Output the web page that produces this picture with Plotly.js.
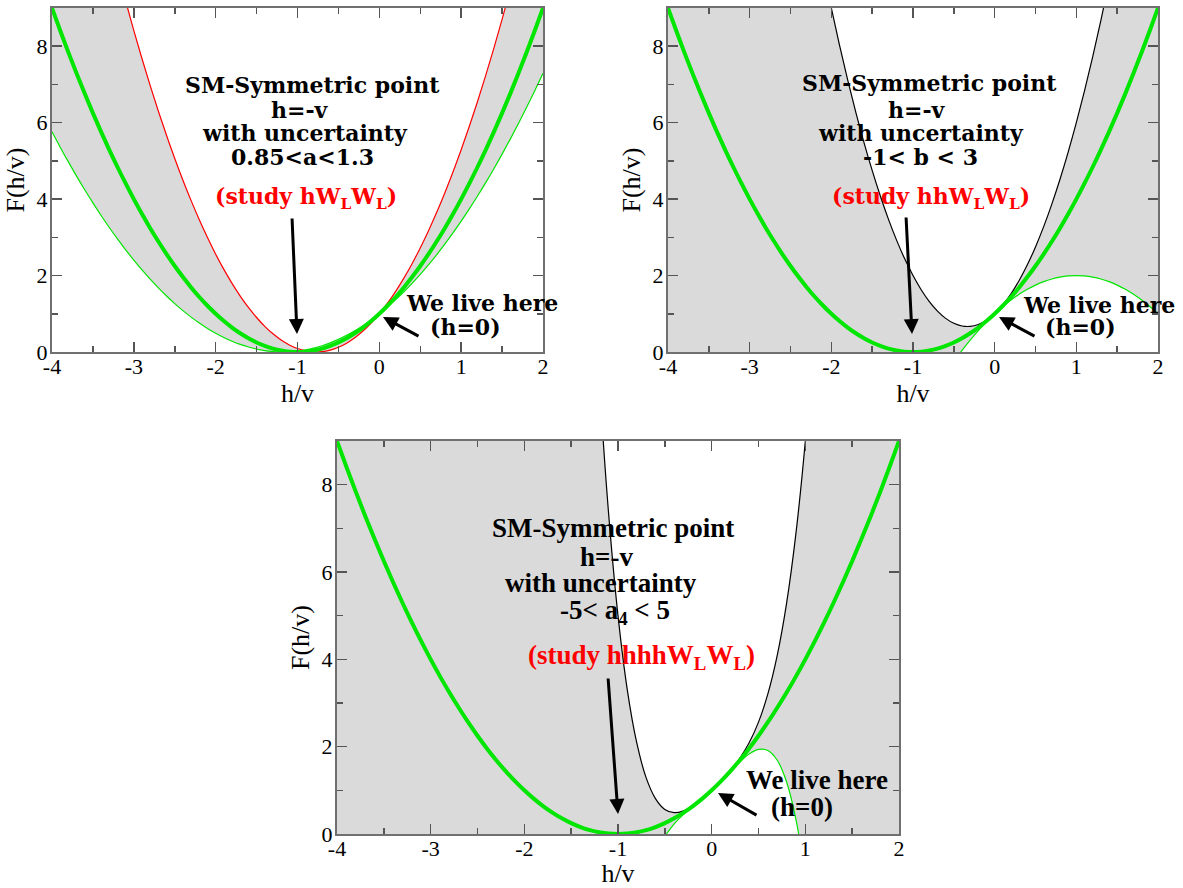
<!DOCTYPE html>
<html>
<head>
<meta charset="utf-8">
<script src="https://cdn.plot.ly/plotly-3.0.1.min.js"></script>
<style>html,body{margin:0;padding:0;background:#fff;}#plot{width:1183px;height:888px;}</style>
</head>
<body>
<div id="plot"></div>
<script>
// ---- data ----
const hv = [-4.0,-3.9,-3.8,-3.7,-3.6,-3.5,-3.4,-3.3,-3.2,-3.1,-3.0,-2.9,-2.8,-2.7,-2.6,-2.5,-2.4,-2.3,-2.2,-2.1,-2.0,-1.9,-1.8,-1.7,-1.6,-1.5,-1.4,-1.3,-1.2,-1.1,-1.0,-0.9,-0.8,-0.7,-0.6,-0.5,-0.4,-0.3,-0.2,-0.1,0.0,0.1,0.2,0.3,0.4,0.5,0.6,0.7,0.8,0.9,1.0,1.1,1.2,1.3,1.4,1.5,1.6,1.7,1.8,1.9,2.0];

// SM curve (thick green), same in all three panels
const smF = [9,8.41,7.84,7.29,6.76,6.25,5.76,5.29,4.84,4.41,4,3.61,3.24,2.89,2.56,2.25,1.96,1.69,1.44,1.21,1,0.81,0.64,0.49,0.36,0.25,0.16,0.09,0.04,0.01,0,0.01,0.04,0.09,0.16,0.25,0.36,0.49,0.64,0.81,1,1.21,1.44,1.69,1.96,2.25,2.56,2.89,3.24,3.61,4,4.41,4.84,5.29,5.76,6.25,6.76,7.29,7.84,8.41,9];

// panel 1: a = 0.85 (thin green) and a = 1.3 (red)
const aLow = [5.76,5.359,4.973,4.601,4.244,3.901,3.572,3.258,2.958,2.673,2.403,2.146,1.904,1.677,1.464,1.266,1.082,0.912,0.757,0.616,0.49,0.378,0.281,0.198,0.13,0.076,0.036,0.011,0.0004,0.004,0.0225,0.055,0.102,0.164,0.24,0.331,0.436,0.555,0.689,0.837,1,1.177,1.369,1.575,1.796,2.031,2.28,2.544,2.822,3.115,3.423,3.744,4.08,4.431,4.796,5.176,5.57,5.978,6.401,6.838,7.29];
const aHigh = [17.64,16.56,15.52,14.52,13.54,12.6,11.7,10.82,9.99,9.18,8.41,7.673,6.97,6.3,5.664,5.063,4.494,3.96,3.46,2.993,2.56,2.161,1.796,1.464,1.166,0.9025,0.672,0.476,0.314,0.185,0.09,0.029,0.0016,0.0081,0.048,0.1225,0.23,0.372,0.548,0.757,1,1.277,1.588,1.932,2.31,2.723,3.168,3.648,4.162,4.709,5.29,5.905,6.554,7.236,7.952,8.703,9.486,10.3,11.16,12.04,12.96];

// panel 2: b = -1 (thin green) and b = 3 (black)
const bLow = [-23,-22.01,-21.04,-20.09,-19.16,-18.25,-17.36,-16.49,-15.64,-14.81,-14,-13.21,-12.44,-11.69,-10.96,-10.25,-9.56,-8.89,-8.24,-7.61,-7,-6.41,-5.84,-5.29,-4.76,-4.25,-3.76,-3.29,-2.84,-2.41,-2,-1.61,-1.24,-0.89,-0.56,-0.25,0.04,0.31,0.56,0.79,1,1.19,1.36,1.51,1.64,1.75,1.84,1.91,1.96,1.99,2,1.99,1.96,1.91,1.84,1.75,1.64,1.51,1.36,1.19,1];
const bHigh = [41,38.83,36.72,34.67,32.68,30.75,28.88,27.07,25.32,23.63,22,20.43,18.92,17.47,16.08,14.75,13.48,12.27,11.12,10.03,9,8.03,7.12,6.27,5.48,4.75,4.08,3.47,2.92,2.43,2,1.63,1.32,1.07,0.88,0.75,0.68,0.67,0.72,0.83,1,1.23,1.52,1.87,2.28,2.75,3.28,3.87,4.52,5.23,6,6.83,7.72,8.67,9.68,10.75,11.88,13.07,14.32,15.63,17];

// panel 3: a4 = -5 (thin green) and a4 = 5 (black)
const a4Low = [-1271,-1148.31,-1034.73,-929.79,-833.05,-744.06,-662.41,-587.67,-519.45,-457.35,-401,-350.03,-304.09,-262.83,-225.93,-193.06,-163.93,-138.23,-115.69,-96.03,-79,-64.35,-51.85,-41.27,-32.41,-25.06,-19.05,-14.19,-10.33,-7.31,-5,-3.27,-2.01,-1.11,-0.488,-0.0625,0.232,0.4495,0.632,0.8095,1,1.2095,1.432,1.6495,1.832,1.9375,1.912,1.6895,1.192,0.3295,-1,-2.91,-5.53,-8.99,-13.45,-19.06,-26.01,-34.47,-44.65,-56.75,-71];
const a4High = [1289,1165.13,1050.41,944.37,846.57,756.56,673.93,598.25,529.13,466.17,409,357.25,310.57,268.61,231.05,197.56,167.85,141.61,118.57,98.45,81,65.97,53.13,42.25,33.13,25.56,19.37,14.37,10.41,7.33,5,3.29,2.09,1.29,0.81,0.5625,0.488,0.5305,0.648,0.8105,1,1.2105,1.448,1.7305,2.088,2.5625,3.208,4.0905,5.288,6.8905,9,11.73,15.21,19.57,24.97,31.56,39.53,49.05,60.33,73.57,89];

const xTickVals = [-4,-3,-2,-1,0,1,2];
const xTickText = ['-4','-3','-2','-1','0','1','2'];
const yTickVals = [0,2,4,6,8];
const yTickText = ['0','2','4','6','8'];

// ---- layout helpers ----
const W = 1183, H = 888;
const px = x => x / W;
const py = y => 1 - y / H;

const GREEN = '#00e600', GRAY = '#dadada';
const serif = 'Liberation Serif, Times New Roman, serif';

function panelTraces(lo, hi, edgeColor, k) {
  const xa = k === 1 ? 'x' : 'x' + k, ya = k === 1 ? 'y' : 'y' + k;
  return [
    {x: hv, y: lo, xaxis: xa, yaxis: ya, mode: 'lines', line: {width: 0, shape: 'spline'}, hoverinfo: 'skip'},
    {x: hv, y: hi, xaxis: xa, yaxis: ya, mode: 'lines', line: {width: 0, shape: 'spline'}, fill: 'tonexty', fillcolor: GRAY, hoverinfo: 'skip'},
    {x: hv, y: lo, xaxis: xa, yaxis: ya, mode: 'lines', line: {color: GREEN, width: 1.2, shape: 'spline'}},
    {x: hv, y: hi, xaxis: xa, yaxis: ya, mode: 'lines', line: {color: edgeColor, width: 1.2, shape: 'spline'}},
    {x: hv, y: smF, xaxis: xa, yaxis: ya, mode: 'lines', line: {color: GREEN, width: 4, shape: 'spline'}}
  ];
}

const data = [].concat(
  panelTraces(aLow, aHigh, '#ff0000', 1),
  panelTraces(bLow, bHigh, '#000000', 2),
  panelTraces(a4Low, a4High, '#000000', 3)
);

function xAxis(d0, d1, anchor) {
  return {
    domain: [px(d0), px(d1)], anchor: anchor, range: [-4, 2],
    tickmode: 'array', tickvals: xTickVals, ticktext: xTickText,
    ticks: 'inside', ticklen: 10, tickwidth: 1.5, tickcolor: '#555',
    minor: {tickmode: 'linear', tick0: 0, dtick: 0.5, ticks: 'inside', ticklen: 6, tickwidth: 1.5, tickcolor: '#555', showgrid: false},
    showline: true, linecolor: '#707070', linewidth: 2, mirror: 'allticks',
    showgrid: false, zeroline: false, ticklabelstandoff: -6,
    tickfont: {family: serif, size: 22, color: '#000'},
    title: {text: 'h/v', font: {family: serif, size: 26, color: '#000'}, standoff: 0}
  };
}
function yAxis(d0, d1, anchor) {
  return {
    domain: [py(d1), py(d0)], anchor: anchor, range: [0, 9],
    tickmode: 'array', tickvals: yTickVals, ticktext: yTickText,
    ticks: 'inside', ticklen: 10, tickwidth: 1.5, tickcolor: '#555',
    minor: {tickmode: 'linear', tick0: 0, dtick: 1, ticks: 'inside', ticklen: 6, tickwidth: 1.5, tickcolor: '#555', showgrid: false},
    showline: true, linecolor: '#707070', linewidth: 2, mirror: 'allticks',
    showgrid: false, zeroline: false, ticklabelstandoff: -2,
    tickfont: {family: serif, size: 22, color: '#000'},
    title: {text: 'F(h/v)', font: {family: serif, size: 26, color: '#000'}, standoff: 4}
  };
}

function txt(x, y, text, family, size, color) {
  return {xref: 'paper', yref: 'paper', x: px(x), y: py(y), xanchor: 'center', yanchor: 'middle',
          text: text, showarrow: false, font: {family: family, size: size, color: color || '#000', weight: 'bold'}};
}
function arrow(hx, hy, tx, ty) {
  return {xref: 'paper', yref: 'paper', x: px(hx), y: py(hy), ax: tx - hx, ay: ty - hy, text: '',
          showarrow: true, arrowhead: 2, arrowsize: 1, arrowwidth: 3, arrowcolor: '#000', standoff: 0};
}

const dv = 'DejaVu Serif, serif';
const annotations = [
  // panel 1
  txt(312, 85, 'SM-Symmetric point', dv, 22),
  txt(300, 110, 'h=-v', dv, 22),
  txt(305, 133, 'with uncertainty', dv, 22),
  txt(302, 157, '0.85<a<1.3', dv, 22),
  txt(306, 198, '(study hW<sub>L</sub>W<sub>L</sub>)', dv, 22, '#ff0000'),
  txt(482, 303, 'We live here', dv, 22),
  txt(465, 327, '(h=0)', dv, 22),
  arrow(297, 334, 292, 217),
  arrow(383, 317, 420, 337),
  // panel 2
  txt(929, 83, 'SM-Symmetric point', dv, 22),
  txt(917, 110, 'h=-v', dv, 22),
  txt(921, 133, 'with uncertainty', dv, 22),
  txt(920, 157, '-1< b < 3', dv, 22),
  txt(931, 198, '(study hhW<sub>L</sub>W<sub>L</sub>)', dv, 22, '#ff0000'),
  txt(1099, 305, 'We live here', dv, 22),
  txt(1080, 327, '(h=0)', dv, 22),
  arrow(912, 334, 906, 216),
  arrow(999, 317, 1036, 337),
  // panel 3
  txt(613, 528, 'SM-Symmetric point', serif, 27),
  txt(606, 557, 'h=-v', serif, 27),
  txt(601, 583, 'with uncertainty', serif, 27),
  txt(615, 612, '-5< a<sub>4</sub> < 5', serif, 27),
  txt(641, 657, '(study hhhhW<sub>L</sub>W<sub>L</sub>)', serif, 27, '#ff0000'),
  txt(817, 780, 'We live here', serif, 27),
  txt(802, 807, '(h=0)', serif, 27),
  arrow(618, 814, 608, 677),
  arrow(718, 793, 758, 816)
];

const layout = {
  width: W, height: H, margin: {l: 0, r: 0, t: 0, b: 0},
  paper_bgcolor: '#fff', plot_bgcolor: '#fff', showlegend: false,
  xaxis: xAxis(52, 543, 'y'), yaxis: yAxis(8, 352, 'x'),
  xaxis2: xAxis(668, 1158, 'y2'), yaxis2: yAxis(8, 352, 'x2'),
  xaxis3: xAxis(337, 899, 'y3'), yaxis3: yAxis(441, 834, 'x3'),
  annotations: annotations
};

Plotly.newPlot('plot', data, layout, {displayModeBar: false, staticPlot: true});
</script>
</body>
</html>
